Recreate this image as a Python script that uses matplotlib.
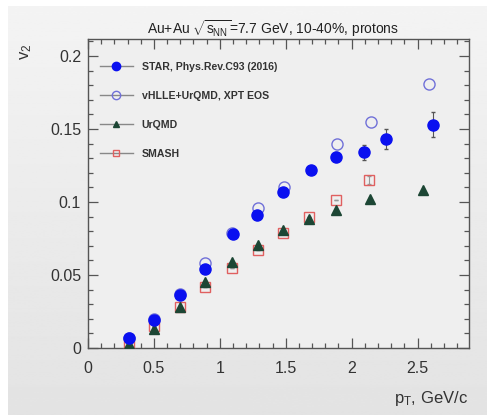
import numpy as np
import matplotlib
matplotlib.use("Agg")
import matplotlib.pyplot as plt
from matplotlib.ticker import MultipleLocator
from matplotlib.lines import Line2D

plt.rcParams['font.family'] = ['Liberation Sans', 'DejaVu Sans']
plt.rcParams['mathtext.fontset'] = 'custom'
plt.rcParams['mathtext.rm'] = 'Liberation Sans'
plt.rcParams['mathtext.it'] = 'Liberation Sans'

# ---- data ----
star_x = [0.31, 0.50, 0.70, 0.89, 1.10, 1.28, 1.48, 1.69, 1.88, 2.09, 2.26, 2.62]
star_y = [0.0066, 0.019, 0.036, 0.054, 0.078, 0.091, 0.107, 0.122, 0.131, 0.134, 0.143, 0.153]
star_err = [0.001, 0.001, 0.001, 0.001, 0.001, 0.0015, 0.002, 0.002, 0.003, 0.005, 0.007, 0.0085]

vhlle_x = [0.31, 0.50, 0.70, 0.89, 1.09, 1.29, 1.49, 1.89, 2.15, 2.59]
vhlle_y = [0.007, 0.020, 0.037, 0.058, 0.079, 0.0957, 0.110, 0.1395, 0.1548, 0.181]

urqmd_x = [0.31, 0.50, 0.70, 0.89, 1.09, 1.29, 1.48, 1.68, 1.88, 2.14, 2.54]
urqmd_y = [0.003, 0.013, 0.028, 0.045, 0.059, 0.0705, 0.081, 0.088, 0.0945, 0.102, 0.108]

smash_x = [0.31, 0.50, 0.70, 0.89, 1.09, 1.29, 1.48, 1.68, 1.88, 2.13]
smash_y = [0.002, 0.015, 0.028, 0.0416, 0.055, 0.067, 0.079, 0.090, 0.1014, 0.115]
smash_err = [0, 0, 0, 0, 0, 0, 0, 0, 0, 0.003]

labels = ["STAR, Phys.Rev.C93 (2016)", "vHLLE+UrQMD, XPT EOS", "UrQMD", "SMASH"]
xtick_vals = [0, 0.5, 1, 1.5, 2, 2.5]
xtick_labels = ['0', '0.5', '1', '1.5', '2', '2.5']
ytick_vals = [0, 0.05, 0.1, 0.15, 0.2]
ytick_labels = ['0', '0.05', '0.1', '0.15', '0.2']

W, H = 487, 415
fig = plt.figure(figsize=(W / 100, H / 100), dpi=100, facecolor='white')

# gradient background
bg = fig.add_axes([8 / W, 0, 1 - 8 / W, 1 - 6 / H], zorder=-10)
grad = np.linspace(0.955, 0.89, 256).reshape(-1, 1)
bg.imshow(grad, aspect='auto', cmap='gray', vmin=0, vmax=1, extent=[0, 1, 0, 1])
bg.axis('off')

ax = fig.add_axes([88 / W, (H - 348) / H, (469 - 88) / W, (348 - 39) / H])
ax.set_facecolor('#efefef')

ax.errorbar(smash_x, smash_y, yerr=smash_err, fmt='s', ms=6.5, mfc='none', mec='#e06060',
            mew=1.0, ecolor='#999999', elinewidth=0.8, capsize=1.5, zorder=3)
ax.plot(vhlle_x, vhlle_y, 'o', ms=8, mfc='none', mec='#7070d8', mew=1.0, zorder=3)
ax.plot(urqmd_x, urqmd_y, '^', ms=6.5, color='#1c4634', zorder=4)
ax.errorbar(star_x, star_y, yerr=star_err, fmt='o', ms=8, color='#0a10f0',
            ecolor='#555555', elinewidth=0.8, capsize=1.5, zorder=5)

ax.set_xlim(0, 2.89)
ax.set_ylim(0, 0.2116)

ax.xaxis.set_minor_locator(MultipleLocator(0.1))
ax.yaxis.set_minor_locator(MultipleLocator(0.01))
ax.set_xticks(xtick_vals)
ax.set_xticklabels(xtick_labels)
ax.set_yticks(ytick_vals)
ax.set_yticklabels(ytick_labels)
ax.tick_params(which='both', direction='in', top=True, right=True, colors='#555555',
               labelcolor='#333333', labelsize=11.5, width=0.9)
ax.tick_params(which='major', length=7)
ax.tick_params(which='minor', length=3.5)
ax.tick_params(axis='x', which='major', pad=9)
ax.tick_params(axis='y', which='major', pad=5)
for s in ax.spines.values():
    s.set_color('#555555')
    s.set_linewidth(1.0)

fig.text(273 / W, 1 - 29 / H, r"Au+Au $\sqrt{s_{NN}}$=7.7 GeV, 10-40%, protons",
         ha='center', va='center', fontsize=10, color='#222222')
fig.text(26 / W, 1 - 52 / H, r"v$_2$", rotation=90, ha='center', va='center',
         fontsize=12, color='#333333')
fig.text(468 / W, 1 - 398 / H, r"p$_T$, GeV/c", ha='right', va='center',
         fontsize=12, color='#333333')

handles = [
    dict(marker='o', ms=6, mfc='#0a10f0', mec='#0a10f0'),
    dict(marker='o', ms=6, mfc='none', mec='#7070d8'),
    dict(marker='^', ms=5, mfc='#1c4634', mec='#1c4634'),
    dict(marker='s', ms=5, mfc='none', mec='#e06060'),
]
lh = [Line2D([], [], color='#888888', lw=1.0, **h) for h in handles]
leg = ax.legend(lh, labels, loc='upper left', bbox_to_anchor=(0.0315, 0.925), frameon=False,
                prop={'weight': 'bold', 'size': 7.6}, handlelength=3.1, labelspacing=1.8,
                handletextpad=0.85, borderaxespad=0.0, borderpad=0.0)
for t in leg.get_texts():
    t.set_color('#333333')

fig.savefig('out.png', dpi=100)
